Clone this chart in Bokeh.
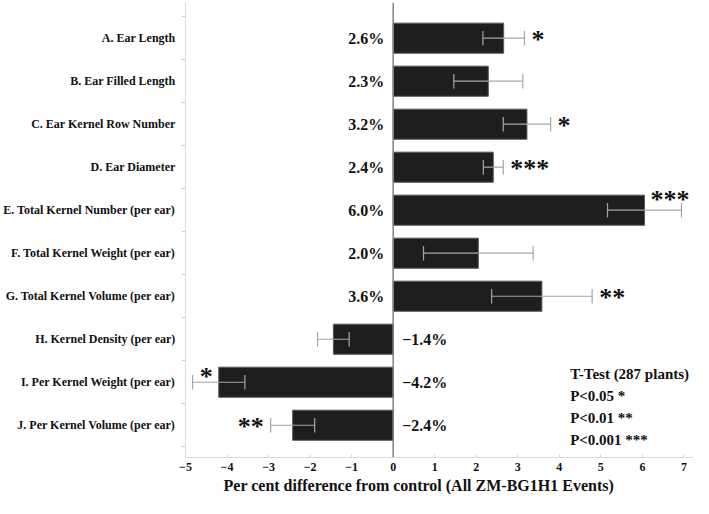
from bokeh.plotting import figure
from bokeh.models import Range1d, FixedTicker, Span, Title, ColumnDataSource
from bokeh.core.properties import value
from bokeh.embed import file_html
from bokeh.resources import INLINE

categories = [
    "A. Ear Length",
    "B. Ear Filled Length",
    "C. Ear Kernel Row Number",
    "D. Ear Diameter",
    "E. Total Kernel Number (per ear)",
    "F. Total Kernel Weight (per ear)",
    "G. Total Kernel Volume (per ear)",
    "H. Kernel Density (per ear)",
    "I. Per Kernel Weight (per ear)",
    "J. Per Kernel Volume (per ear)",
]
values = [2.66, 2.29, 3.22, 2.41, 6.05, 2.05, 3.58, -1.44, -4.20, -2.42]
errors = [0.50, 0.83, 0.57, 0.24, 0.89, 1.32, 1.21, 0.38, 0.63, 0.53]
pct_labels = ["2.6%", "2.3%", "3.2%", "2.4%", "6.0%", "2.0%", "3.6%",
              "\u22121.4%", "\u22124.2%", "\u22122.4%"]
stars = ["*", "", "*", "***", "***", "", "**", "", "*", "**"]
star_place = ["end", "", "end", "end", "bar", "", "end", "", "bar", "end"]
x_ticks = list(range(-5, 8))
legend_lines = ["T-Test (287 plants)", "P<0.05 *", "P<0.01 **", "P<0.001 ***"]
x_title = "Per cent difference from control (All ZM-BG1H1 Events)"

FONT = "Liberation Serif"
n = len(categories)
idx = list(range(n))
cap = 0.17

p = figure(width=693, height=498, output_backend="svg", toolbar_location=None,
           x_range=Range1d(-5, 7.23), y_range=Range1d(9.75, -0.83),
           min_border_left=183, min_border_right=0, min_border_top=2,
           min_border_bottom=41)
p.outline_line_color = None
p.xgrid.grid_line_color = None
p.ygrid.grid_line_color = None
p.background_fill_color = "white"

# bars and error bars
src = ColumnDataSource(dict(y=idx, v=values,
                            lo=[v - e for v, e in zip(values, errors)],
                            hi=[v + e for v, e in zip(values, errors)],
                            yt=[i - cap for i in idx],
                            yb=[i + cap for i in idx]))
p.hbar(y="y", left=0, right="v", height=0.7, source=src,
       fill_color="#1e1e1e", line_color="#5a5a5a", line_width=1)

p.add_layout(Span(location=0, dimension="height", line_color="#808080", line_width=1.5))

p.segment(x0="lo", x1="hi", y0="y", y1="y", source=src, line_color="#a6a6a6", line_width=1.2)
p.segment(x0="lo", x1="lo", y0="yt", y1="yb", source=src, line_color="#a6a6a6", line_width=1.2)
p.segment(x0="hi", x1="hi", y0="yt", y1="yb", source=src, line_color="#a6a6a6", line_width=1.2)

# value labels
pos = [i for i in idx if values[i] >= 0]
neg = [i for i in idx if values[i] < 0]
p.text(x=[0] * len(pos), y=pos, text=[pct_labels[i] for i in pos],
       text_align="right", text_baseline="middle", x_offset=-9,
       text_font=value(FONT), text_font_style="bold", text_font_size="16px",
       text_color="#111111")
p.text(x=[0] * len(neg), y=neg, text=[pct_labels[i] for i in neg],
       text_align="left", text_baseline="middle", x_offset=9,
       text_font=value(FONT), text_font_style="bold", text_font_size="16px",
       text_color="#111111")

# significance stars
for i in idx:
    if not stars[i]:
        continue
    sgn = 1 if values[i] >= 0 else -1
    if star_place[i] == "end":
        sx = values[i] + sgn * errors[i]
        dy, gap = 0, 7
    else:
        sx = values[i]
        dy, gap = (-12, 6) if sgn > 0 else (-7, 6)
    p.text(x=[sx], y=[i], text=[stars[i]],
           text_align="left" if sgn > 0 else "right", text_baseline="middle",
           x_offset=gap * sgn, y_offset=1 + dy,
           text_font=value(FONT), text_font_style="bold", text_font_size="26px",
           text_color="#111111")

# notes
leg_y = [7.82 + 0.51 * k for k in range(len(legend_lines))]
p.text(x=[4.26] * len(legend_lines), y=leg_y, text=legend_lines,
       text_align="left", text_baseline="middle",
       text_font=value(FONT), text_font_style="bold", text_font_size="15px",
       text_color="#111111")

# y axis
yax = p.yaxis[0]
yax.ticker = FixedTicker(ticks=idx, minor_ticks=[i - 0.5 for i in range(n + 1)])
yax.major_label_overrides = {i: c for i, c in zip(idx, categories)}
yax.major_tick_line_color = None
yax.major_tick_out = 0
yax.major_tick_in = 0
yax.minor_tick_line_color = "#d0d0d0"
yax.minor_tick_out = 4
yax.minor_tick_in = 0
yax.axis_line_color = "#d9d9d9"
yax.major_label_standoff = 6
yax.major_label_text_font = FONT
yax.major_label_text_font_style = "bold"
yax.major_label_text_font_size = "12px"
yax.major_label_text_color = "#111111"

# x axis
xax = p.xaxis[0]
xax.ticker = FixedTicker(ticks=x_ticks, minor_ticks=[])
xax.major_label_overrides = {t: (("\u2212" + str(-t)) if t < 0 else str(t)) for t in x_ticks}
xax.axis_line_color = "#d9d9d9"
xax.major_tick_line_color = "#d9d9d9"
xax.major_tick_in = 3
xax.major_tick_out = 0
xax.minor_tick_line_color = None
xax.major_label_standoff = 5
xax.major_label_text_font = FONT
xax.major_label_text_font_style = "bold"
xax.major_label_text_font_size = "12px"
xax.major_label_text_color = "#111111"

p.add_layout(Title(text=x_title, align="left", offset=38, standoff=3,
                   text_font=FONT, text_font_style="bold", text_font_size="16px",
                   text_color="#111111"), "below")

open("out.html", "w").write(file_html(p, INLINE))
